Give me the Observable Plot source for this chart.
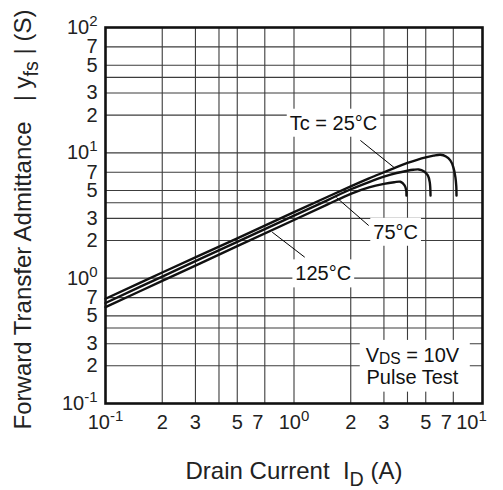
<!DOCTYPE html>
<html>
<head>
<meta charset="utf-8">
<script src="https://cdn.jsdelivr.net/npm/d3@7"></script>
<script src="https://cdn.jsdelivr.net/npm/@observablehq/plot@0.6"></script>
<style>
  body { margin: 0; background: #fff; }
  svg { display: block; }
</style>
</head>
<body>
<div id="chart"></div>
<script>
// ---- Data ----
const idT25  = [0.1, 0.2, 0.5, 1.0, 1.5, 2.0, 2.5, 3.0, 3.5, 4.0, 4.5, 5.0, 5.5, 5.98, 6.4, 6.75, 7.0, 7.18, 7.26, 7.28];
const yfsT25 = [0.685, 1.11, 2.08, 3.36, 4.44, 5.40, 6.25, 7.0, 7.7, 8.3, 8.8, 9.2, 9.5, 9.65, 9.35, 8.7, 7.7, 6.4, 5.4, 4.57];

const idT75  = [0.1, 0.2, 0.5, 1.0, 1.5, 2.0, 2.5, 3.0, 3.5, 4.0, 4.3, 4.59, 4.88, 5.13, 5.25, 5.3];
const yfsT75 = [0.634, 1.03, 1.95, 3.15, 4.18, 5.12, 5.85, 6.45, 6.9, 7.2, 7.32, 7.37, 7.14, 6.6, 5.84, 4.56];

const idT125  = [0.1, 0.2, 0.5, 1.0, 1.5, 2.0, 2.5, 3.0, 3.4, 3.67, 3.86, 3.94, 3.95];
const yfsT125 = [0.587, 0.951, 1.80, 2.91, 3.86, 4.71, 5.3, 5.65, 5.82, 5.88, 5.5, 5.0, 4.56];

const seriesNames = ["25", "75", "125"];

const curveLabels = ["Tc = 25°C", "75°C", "125°C"];
const curveLabelX = [1.62, 3.46, 1.43];
const curveLabelY = [17.2, 2.32, 1.08];

const leaderX1 = [2.25, 1.68, 0.766];
const leaderY1 = [12.56, 4.4, 2.33];
const leaderX2 = [3.41, 2.49, 1.14];
const leaderY2 = [7.6, 2.63, 1.47];

const condLines = ["V~{DS} = 10V", "Pulse Test"];
const condX = [4.25, 4.25];
const condY = [0.2415, 0.162];

const xGrid = [0.2, 0.3, 0.4, 0.5, 0.7, 1, 2, 3, 4, 5, 7];
const yGrid = [0.2, 0.3, 0.4, 0.5, 0.7, 1, 2, 3, 4, 5, 7, 10, 20, 30, 40, 50, 70];

const xTickValues = [0.2, 0.3, 0.5, 2, 3, 5];
const xTickSevens = [0.7, 7];
const yTickValues = [0.2, 0.3, 0.5, 0.7, 2, 3, 5, 7, 20, 30, 50, 70];
const xDecades = [0.1, 1];
const xDecadeLabels = ["10^{-1}", "10^{0}"];
const xLastDecade = [10];
const xLastDecadeLabel = ["10^{1}"];
const yDecades = [0.1, 1, 10, 100];
const yDecadeLabels = ["10^{-1}", "10^{0}", "10^{1}", "10^{2}"];

const xTitle = "Drain Current  I_{D} (A)";
const yTitle = "Forward Transfer Admittance   | y_{fs} | (S)";

// ---- Build tables ----
const curveRows = [];
[[idT25, yfsT25], [idT75, yfsT75], [idT125, yfsT125]].forEach(([xs, ys], k) => {
  xs.forEach((v, i) => curveRows.push({tc: seriesNames[k], id: v, yfs: ys[i]}));
});
const labelRows = curveLabels.map((t, i) => ({t, x: curveLabelX[i], y: curveLabelY[i]}));
const leaderRows = leaderX1.map((v, i) => ({x1: v, y1: leaderY1[i], x2: leaderX2[i], y2: leaderY2[i]}));
const condRows = condLines.map((t, i) => ({t, x: condX[i], y: condY[i]}));
const mant = d => String(Math.round(d / Math.pow(10, Math.floor(Math.log10(d) + 1e-9))));

const FONT = "'Liberation Sans', Arial, Helvetica, sans-serif";
const TICK = {fontSize: 20, fill: "#222", lineAnchor: "middle"};

const chart = Plot.plot({
  width: 503,
  height: 490,
  marginLeft: 105,
  marginRight: 21,
  marginTop: 27,
  marginBottom: 87,
  style: {fontFamily: FONT, background: "white", color: "black"},
  x: {type: "log", domain: [0.1, 10], axis: null},
  y: {type: "log", domain: [0.1, 100], axis: null},
  marks: [
    Plot.ruleX(xGrid, {x: d => d, stroke: "#3c3c3c", strokeWidth: 1.1}),
    Plot.ruleY(yGrid, {y: d => d, stroke: "#3c3c3c", strokeWidth: 1.1}),
    Plot.link(leaderRows, {x1: "x1", y1: "y1", x2: "x2", y2: "y2", stroke: "black", strokeWidth: 1}),
    Plot.line(curveRows, {x: "id", y: "yfs", z: "tc", stroke: "#111", strokeWidth: 2.4, curve: "catmull-rom"}),
    Plot.text(labelRows, {x: "x", y: "y", text: "t", fontSize: 20, fill: "#111", ariaDescription: "boxed"}),
    Plot.text(condRows, {x: "x", y: "y", text: "t", fontSize: 20, fill: "#111", ariaDescription: "boxed-union"}),
    Plot.frame({stroke: "#111", strokeWidth: 2.6}),
    // tick labels
    Plot.text(xTickValues, {x: d => d, text: mant, frameAnchor: "bottom", dy: 19, ...TICK}),
    Plot.text(xTickSevens, {x: d => d, text: mant, frameAnchor: "bottom", dy: 19, dx: -7, ...TICK}),
    Plot.text(xDecades, {x: d => d, text: (d, i) => xDecadeLabels[i], frameAnchor: "bottom", dy: 19, textAnchor: "middle", ...TICK}),
    Plot.text(xLastDecade, {x: d => d, text: (d, i) => xLastDecadeLabel[i], frameAnchor: "bottom", dy: 19, dx: -11, textAnchor: "middle", ...TICK}),
    Plot.text(yTickValues, {y: d => d, text: mant, frameAnchor: "left", dx: -8, textAnchor: "end", ...TICK}),
    Plot.text(yDecades, {y: d => d, text: (d, i) => yDecadeLabels[i], frameAnchor: "left", dx: -8, textAnchor: "end", ...TICK}),
    // axis titles
    Plot.text([xTitle], {text: d => d, frameAnchor: "bottom", dy: 67.5, textAnchor: "middle", lineAnchor: "middle", fontSize: 24, fill: "#222"}),
    Plot.text([yTitle], {text: d => d, frameAnchor: "left", dx: -82.5, dy: 4, rotate: -90, textAnchor: "middle", lineAnchor: "middle", fontSize: 24, fill: "#222"})
  ]
});

document.getElementById("chart").append(chart);

// ---- Rich text: ^{...} superscript, _{...} subscript, ~{...} small lowered ----
const NS = "http://www.w3.org/2000/svg";
chart.querySelectorAll("text").forEach(el => {
  if (el.children.length) return;
  const s = el.textContent;
  if (!/[\^_~]\{/.test(s)) return;
  const fs = parseFloat(getComputedStyle(el).fontSize) || 20;
  const parts = [];
  const re = /(\^|_|~)\{([^}]*)\}/g;
  let last = 0, m;
  while ((m = re.exec(s))) {
    if (m.index > last) parts.push({type: "n", text: s.slice(last, m.index)});
    parts.push({type: m[1] === "^" ? "sup" : m[1] === "_" ? "sub" : "low", text: m[2]});
    last = re.lastIndex;
  }
  if (last < s.length) parts.push({type: "n", text: s.slice(last)});
  el.textContent = "";
  let shift = 0;
  parts.forEach(p => {
    const t = document.createElementNS(NS, "tspan");
    t.textContent = p.text;
    const target = p.type === "sup" ? -0.4 * fs : p.type === "sub" ? 0.3 * fs : p.type === "low" ? 0.12 * fs : 0;
    if (target !== shift) t.setAttribute("dy", target - shift);
    shift = target;
    if (p.type === "sup") t.setAttribute("font-size", 0.75 * fs);
    if (p.type === "sub") t.setAttribute("font-size", 0.82 * fs);
    if (p.type === "low") t.setAttribute("font-size", 0.78 * fs);
    el.appendChild(t);
  });
});

// ---- White boxes behind annotation labels ----
chart.querySelectorAll("g[aria-description='boxed'] text").forEach(el => {
  const bb = el.getBBox();
  const pad = 3;
  const r = document.createElementNS(NS, "rect");
  r.setAttribute("x", bb.x - pad);
  r.setAttribute("y", bb.y - pad);
  r.setAttribute("width", bb.width + 2 * pad);
  r.setAttribute("height", bb.height + 2 * pad);
  r.setAttribute("fill", "white");
  r.setAttribute("stroke", "none");
  const tr = el.getAttribute("transform");
  if (tr) r.setAttribute("transform", tr);
  el.parentNode.insertBefore(r, el);
});
chart.querySelectorAll("g[aria-description='boxed-union']").forEach(g => {
  const bb = g.getBBox();
  const padX = 6, padY = 4;
  const r = document.createElementNS(NS, "rect");
  r.setAttribute("x", bb.x - padX);
  r.setAttribute("y", bb.y - padY);
  r.setAttribute("width", bb.width + 2 * padX + 4);
  r.setAttribute("height", bb.height + 2 * padY);
  r.setAttribute("fill", "white");
  g.insertBefore(r, g.firstChild);
});
</script>
</body>
</html>
